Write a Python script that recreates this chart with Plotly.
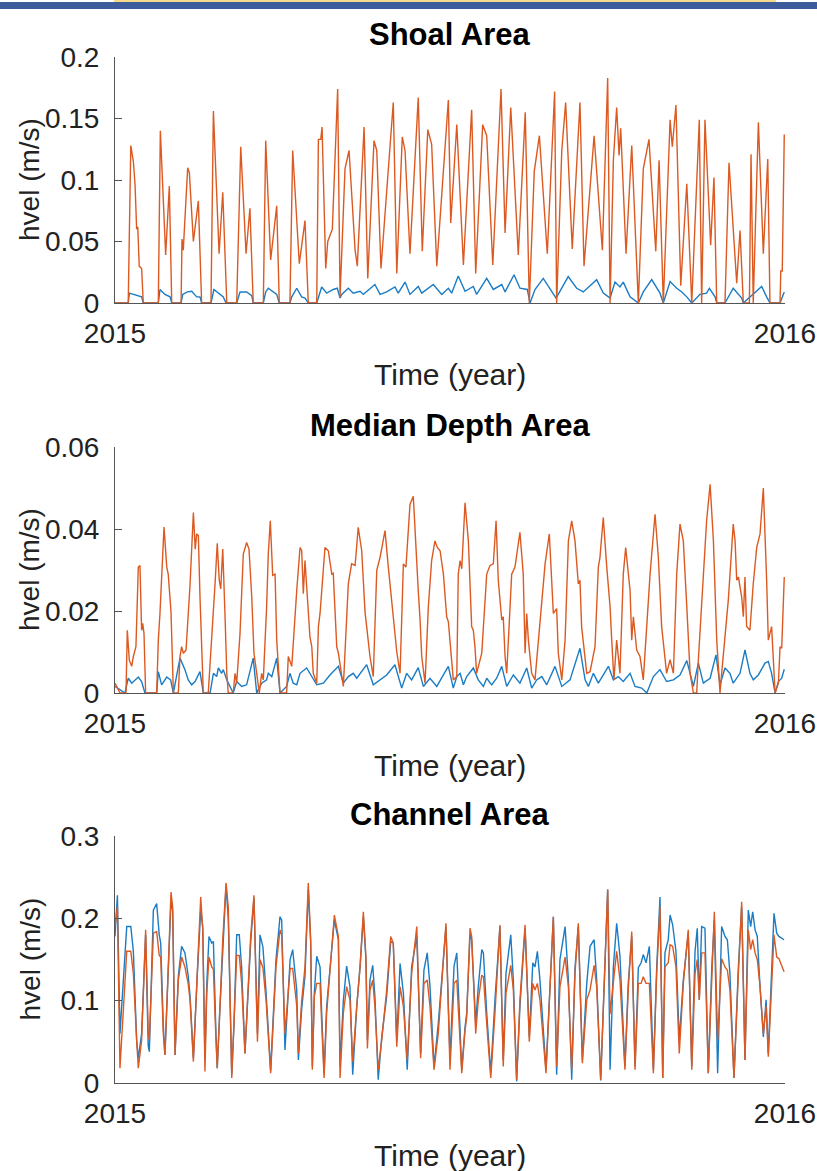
import plotly.graph_objects as go

# ---------------- DATA (time in days since 1 Jan 2015) ----------------
shoal_orange_day = [0, 7.2, 8.6, 10.0, 10.9, 11.8, 12.4, 13.2, 14.5, 15.4, 23.6, 24.7, 27.6, 29.6, 30.9,
    36.0, 36.5, 37.2, 39.6, 40.5, 42.7, 45.4, 47.2, 52.3, 53.6, 56.7, 58.7, 60.9, 66.3, 68.5, 71.4,
    73.5, 75.3, 80.8, 82.1, 84.8, 88.1, 89.5, 95.3, 96.8, 100.4, 101.7, 103.5, 105.3, 109.9, 110.8,
    112.1, 112.8, 114.8, 115.9, 118.4, 121.3, 122.6, 125.3, 127.5, 130.8, 132.0, 135.7, 137.7, 141.1,
    142.6, 144.9, 151.6, 153.5, 156.5, 158.0, 160.7, 165.2, 167.4, 170.4, 172.5, 175.3, 181.6, 182.9,
    186.2, 189.8, 194.3, 196.5, 200.3, 202.5, 205.8, 210.3, 212.5, 215.6, 219.7, 223.5, 225.7, 228.4,
    231.2, 235.5, 239.5, 240.6, 243.4, 245.5, 249.1, 253.3, 255.5, 261.0, 265.5, 268.4, 269.7, 271.5,
    273.3, 274.6, 275.5, 278.4, 281.5, 285.1, 287.8, 290.9, 294.6, 296.4, 298.7, 302.4, 303.6, 305.6,
    308.2, 311.5, 314.2, 318.3, 319.6, 321.4, 324.5, 326.3, 327.8, 332.3, 334.5, 338.7, 340.5, 342.3,
    345.6, 346.5, 347.7, 350.5, 353.2, 355.6, 356.8, 362.3, 362.7, 363.5, 364.6]
shoal_orange_val = [0, 0, 0.128, 0.115, 0.097, 0.06, 0.062, 0.03, 0.028, 0, 0, 0.14, 0.039, 0.095, 0,
    0, 0.052, 0.043, 0.11, 0.106, 0.05, 0.083, 0, 0, 0.156, 0.04, 0.09, 0, 0, 0.127, 0.04,
    0.077, 0, 0, 0.132, 0.035, 0.079, 0, 0, 0.124, 0.032, 0.048, 0.067, 0, 0, 0.133,
    0.133, 0.143, 0.028, 0.05, 0.06, 0.174, 0.005, 0.109, 0.124, 0.043, 0.03, 0.143, 0.02, 0.132,
    0.124, 0.028, 0.163, 0.024, 0.135, 0.124, 0.04, 0.167, 0.042, 0.141, 0.129, 0.030, 0.165, 0.065,
    0.145, 0.031, 0.157, 0.024, 0.145, 0.136, 0.031, 0.174, 0.057, 0.159, 0.039, 0.155, 0, 0.107,
    0.136, 0.04, 0.172, 0, 0.124, 0.163, 0.044, 0.163, 0.03, 0.136, 0.043, 0.183, 0, 0.116,
    0.159, 0.12, 0.142, 0.04, 0.128, 0, 0.109, 0.133, 0.042, 0.116, 0, 0.149, 0.127, 0.161,
    0.014, 0.097, 0, 0.149, 0, 0.149, 0.047, 0.102, 0, 0, 0.114, 0.016, 0.059, 0,
    0, 0.121, 0, 0.147, 0.04, 0.117, 0, 0, 0.026, 0.026, 0.137]

shoal_blue_day = [0, 7.2, 7.8, 10.0, 12.7, 14.5, 15.4, 23.6, 24.5, 27.2, 30.0, 30.9, 36.0, 36.9, 39.4,
    41.8, 44.5, 46.3, 47.2, 52.3, 53.9, 56.3, 59.0, 60.5, 66.3, 68.1, 71.7, 74.5, 75.3, 80.8, 82.1,
    83.5, 86.2, 88.1, 89.5, 95.3, 96.3, 99.0, 101.7, 103.5, 105.3, 109.9, 112.6, 115.3, 118.9, 121.1,
    122.6, 123.5, 127.1, 129.8, 133.5, 135.3, 141.6, 144.4, 148.0, 152.5, 154.3, 158.0, 160.7, 165.2,
    167.1, 173.4, 178.0, 181.6, 183.4, 187.0, 190.7, 195.2, 197.0, 202.5, 206.1, 210.7, 212.5, 217.4,
    220.6, 224.6, 226.1, 228.8, 233.3, 237.0, 240.3, 246.9, 251.5, 255.1, 262.4, 266.0, 269.7, 272.4,
    275.1, 276.9, 280.6, 285.1, 287.8, 292.4, 296.9, 298.7, 302.4, 306.0, 308.8, 311.5, 314.2, 318.7,
    322.3, 323.8, 326.9, 327.8, 332.3, 336.8, 341.4, 342.3, 346.0, 352.3, 355.0, 356.8, 362.3, 364.6]
shoal_blue_val = [0, 0, 0.008, 0.007, 0.006, 0.005, 0, 0, 0.011, 0.007, 0.005, 0, 0, 0.007, 0.009,
    0.0095, 0.005, 0.005, 0, 0, 0.011, 0.008, 0.005, 0, 0, 0.009, 0.009, 0.006, 0, 0, 0.009,
    0.012, 0.009, 0.007, 0, 0, 0.005, 0.012, 0.005, 0.004, 0, 0, 0.013, 0.008, 0.011, 0.012,
    0.004, 0.007, 0.012, 0.008, 0.0095, 0.007, 0.015, 0.007, 0.009, 0.013, 0.008, 0.017, 0.007, 0.0135,
    0.008, 0.015, 0.007, 0.012, 0.008, 0.022, 0.0095, 0.0135, 0.007, 0.020, 0.011, 0.015, 0.009, 0.023,
    0.012, 0.011, 0, 0.011, 0.020, 0.012, 0.004, 0.0215, 0.012, 0.009, 0.019, 0.008, 0.004, 0.017,
    0.013, 0.017, 0.005, 0, 0.009, 0.019, 0.008, 0, 0.0175, 0.012, 0.009, 0.005, 0, 0.007,
    0.008, 0.012, 0.005, 0, 0, 0.012, 0.004, 0, 0.005, 0.0135, 0.005, 0, 0, 0.009]

median_orange_day = [0, 0.9, 2.7, 6.0, 6.7, 7.8, 9.1, 10.0, 11.4, 12.7, 13.6, 14.5, 15.1, 15.8, 16.7,
    22.7, 23.6, 24.5, 26.7, 28.2, 29.0, 30.5, 31.8, 34.5, 35.4, 36.3, 37.2, 38.7, 39.9, 40.9, 42.7,
    43.7, 44.5, 45.4, 46.3, 47.2, 48.1, 50.8, 52.7, 54.5, 55.7, 56.8, 57.6, 58.7, 59.9, 60.9, 61.7,
    64.4, 65.4, 66.3, 68.1, 69.9, 71.7, 73.0, 74.5, 75.7, 77.2, 78.6, 79.9, 80.8, 82.6, 83.5, 84.6,
    85.9, 87.2, 88.1, 89.9, 93.5, 94.4, 96.3, 99.0, 100.8, 101.7, 102.6, 103.5, 104.4, 106.2, 107.2,
    108.0, 109.9, 110.8, 111.7, 114.4, 116.2, 118.1, 118.9, 120.8, 121.7, 123.5, 124.4, 127.1, 128.9,
    130.8, 132.5, 134.4, 136.2, 137.1, 138.9, 140.7, 142.6, 144.4, 147.1, 148.9, 151.6, 153.5, 155.3,
    157.1, 158.5, 160.7, 162.5, 163.4, 165.2, 166.2, 167.1, 168.9, 170.7, 172.5, 174.3, 175.6, 177.1,
    178.9, 180.7, 181.6, 182.5, 183.4, 184.3, 186.2, 187.0, 188.0, 188.9, 190.7, 192.5, 194.3, 195.2,
    196.1, 197.0, 199.8, 202.5, 204.3, 206.1, 207.6, 208.8, 210.7, 211.5, 212.5, 213.4, 216.1, 217.9,
    220.6, 222.4, 223.4, 224.3, 225.2, 227.0, 228.8, 231.5, 234.3, 236.6, 238.8, 240.6, 241.5, 243.4,
    245.2, 247.0, 248.8, 250.6, 252.4, 253.3, 254.2, 257.0, 258.8, 261.5, 263.3, 264.2, 266.0, 267.9,
    269.7, 270.6, 271.8, 273.3, 275.1, 276.9, 278.2, 280.6, 281.5, 282.4, 284.2, 286.0, 287.8, 291.5,
    294.2, 296.0, 297.8, 300.5, 302.4, 304.2, 306.0, 307.8, 309.6, 311.5, 313.3, 315.1, 316.9, 317.8,
    320.5, 322.3, 324.2, 326.0, 327.8, 329.6, 330.5, 332.3, 334.1, 335.0, 336.8, 337.8, 338.7, 339.6,
    341.4, 342.3, 343.2, 344.1, 345.9, 347.7, 349.6, 351.4, 353.2, 355.0, 355.9, 357.7, 358.6, 359.6,
    361.4, 362.3, 363.2, 364.6]
median_orange_val = [0.0024, 0.0016, 0, 0, 0.0153, 0.008, 0.0065, 0.0089, 0.0113, 0.0307, 0.0311, 0.0153, 0.017, 0.0145, 0,
    0, 0.0129, 0.0194, 0.0405, 0.0307, 0.029, 0.0198, 0, 0, 0.0089, 0.0113, 0.0097, 0.0105, 0.0186, 0.0266, 0.044,
    0.0351, 0.0388, 0.0384, 0.0234, 0.0105, 0, 0, 0.0129, 0.0266, 0.0365, 0.0275, 0.0254, 0.0351, 0.0194, 0.0048, 0,
    0, 0.0048, 0.0024, 0.0145, 0.0339, 0.0367, 0.0351, 0.0234, 0.0097, 0.0048, 0, 0.0048, 0.0032, 0.021, 0.0339, 0.042,
    0.0287, 0.029, 0.0129, 0, 0, 0.0089, 0.0065, 0.025, 0.0355, 0.0347, 0.0242, 0.0323, 0.025, 0.0137, 0.0113,
    0.0048, 0.0024, 0.0162, 0.0194, 0.0355, 0.0347, 0.029, 0.0292, 0.0113, 0.0097, 0.0048, 0.0016, 0.0266, 0.0315,
    0.0311, 0.0404, 0.0347, 0.0198, 0.0162, 0.0089, 0.004, 0.0299, 0.0331, 0.0396, 0.0307, 0.0178, 0.010, 0.0048,
    0.0315, 0.0307, 0.046, 0.048, 0.0396, 0.025, 0.0178, 0.0089, 0.0024, 0.021, 0.0323, 0.0371, 0.0355, 0.0347,
    0.029, 0.0186, 0.0174, 0.0129, 0.0065, 0.0032, 0.004, 0.029, 0.0323, 0.0303, 0.0464, 0.0371, 0.0162, 0.0153,
    0.0113, 0.0048, 0.0097, 0.029, 0.0311, 0.0315, 0.042, 0.0275, 0.0178, 0.0186, 0.0089, 0.0048, 0.029, 0.0307,
    0.0392, 0.029, 0.0097, 0.0194, 0.0129, 0.0048, 0.0032, 0.0162, 0.0315, 0.0388, 0.0194, 0.0206, 0.0097, 0.0032,
    0.0129, 0.0371, 0.042, 0.0371, 0.0266, 0.0275, 0.0162, 0.0048, 0.0052, 0.0113, 0.0307, 0.0331, 0.0428, 0.0307,
    0.021, 0.0129, 0.0032, 0.0129, 0.0048, 0.029, 0.0355, 0.025, 0.0129, 0.0186, 0.0105, 0.0089, 0.0032, 0.029,
    0.0436, 0.0331, 0.0162, 0.0048, 0.0081, 0.0048, 0.029, 0.0412, 0.0371, 0.021, 0.0048, 0, 0, 0.0081,
    0.029, 0.042, 0.0509, 0.0371, 0.0129, 0, 0.0048, 0.0129, 0.0226, 0.0287, 0.0412, 0.0371, 0.0275, 0.0283,
    0.0234, 0.0186, 0.0283, 0.0162, 0.0153, 0.0266, 0.0355, 0.0388, 0.050, 0.0275, 0.0129, 0.0162, 0.0089, 0,
    0.0024, 0.0113, 0.0109, 0.0283]

median_blue_day = [0, 2.7, 5.4, 7.2, 9.1, 12.7, 14.5, 16.3, 22.7, 23.6, 25.4, 28.2, 30.3, 31.8, 35.4,
    38.1, 39.9, 41.8, 43.6, 46.3, 48.1, 51.8, 53.6, 55.4, 56.3, 58.1, 59.0, 60.9, 64.4, 66.3, 69.0,
    71.7, 75.3, 77.2, 79.9, 82.6, 83.5, 85.4, 88.1, 89.9, 93.5, 95.3, 97.1, 99.0, 100.8, 104.4, 108.0,
    109.9, 113.5, 117.1, 121.7, 124.4, 127.1, 129.8, 131.7, 137.1, 140.7, 144.4, 148.0, 152.5, 156.2,
    158.9, 161.6, 165.2, 168.0, 171.6, 175.3, 178.9, 181.6, 184.3, 186.2, 188.0, 189.8, 191.6, 195.2,
    197.9, 200.7, 202.5, 205.2, 207.9, 210.7, 213.4, 217.0, 220.6, 224.3, 227.0, 229.7, 232.5, 235.2,
    239.7, 243.4, 247.9, 253.3, 256.1, 257.9, 260.6, 263.3, 266.0, 268.8, 271.5, 274.2, 276.9, 280.6,
    283.3, 286.9, 289.7, 293.3, 296.9, 300.5, 304.2, 307.8, 311.5, 315.1, 317.8, 320.5, 324.2, 327.4,
    329.6, 332.3, 335.0, 336.8, 340.5, 343.2, 345.9, 347.7, 350.5, 354.1, 355.9, 357.7, 359.6, 361.4,
    363.2, 364.6]
median_blue_val = [0.0016, 0.0008, 0, 0.0036, 0.0024, 0.0039, 0.0028, 0, 0, 0.0052, 0.002, 0.0039, 0.0032, 0, 0.0085,
    0.0057, 0.0032, 0.002, 0.0028, 0.0052, 0, 0, 0.0048, 0.004, 0.0061, 0.0048, 0.0057, 0.0032, 0, 0.0028, 0.0016,
    0.002, 0.0085, 0, 0.0024, 0.0032, 0.0048, 0.004, 0.0085, 0, 0.0016, 0.0048, 0.0024, 0.002, 0.0048, 0.0061, 0.0032,
    0.002, 0.0024, 0.0044, 0.0065, 0.0024, 0.004, 0.0048, 0.0036, 0.0069, 0.002, 0.0032, 0.0044, 0.0069, 0.0012,
    0.0048, 0.0032, 0.0062, 0.0016, 0.0036, 0.0016, 0.0044, 0.0065, 0.0012, 0.004, 0.0048, 0.002, 0.004, 0.0061,
    0.0032, 0.0016, 0.0036, 0.002, 0.0036, 0.0065, 0.0016, 0.0044, 0.0024, 0.0061, 0.0012, 0.0032, 0.004, 0.002,
    0.0065, 0.0016, 0.0032, 0.0109, 0.0032, 0.0016, 0.0048, 0.0024, 0.0044, 0.0065, 0.0032, 0.004, 0.0028, 0.0048,
    0.0016, 0.0012, 0, 0.004, 0.0057, 0.0028, 0.0032, 0.0044, 0.0079, 0.0016, 0.0073, 0.0024, 0.0036, 0.0093,
    0.002, 0.0061, 0.0048, 0.0024, 0.0048, 0.0105, 0.0048, 0.0032, 0.0044, 0.0073, 0.0077, 0.0048, 0, 0.0028,
    0.0036, 0.0058]

channel_day = [0, 1.3, 2.7, 6.4, 8.6, 10.0, 11.8, 12.7, 14.5, 16.7, 18.1, 18.7, 20.9, 22.7, 24.1, 24.9,
    26.3, 27.2, 29.6, 30.5, 31.4, 32.7, 34.5, 36.3, 38.1, 39.9, 40.9, 42.7, 44.8, 46.7, 47.8, 49.0,
    50.0, 51.2, 52.7, 53.6, 55.0, 55.7, 57.2, 58.7, 60.5, 61.7, 63.6, 64.8, 66.3, 67.7, 69.0, 70.8,
    72.6, 73.9, 75.7, 77.6, 79.0, 80.6, 82.3, 84.8, 87.7, 89.9, 90.8, 92.6, 95.4, 96.8, 99.0, 99.9,
    101.7, 103.5, 105.3, 106.6, 107.5, 108.6, 109.9, 111.7, 112.6, 113.9, 115.3, 117.1, 119.5, 121.7,
    122.6, 124.4, 126.2, 128.0, 129.5, 131.7, 133.5, 135.3, 136.7, 137.5, 138.9, 140.4, 141.6, 143.4,
    145.3, 148.0, 150.2, 151.6, 153.5, 155.3, 157.1, 159.2, 161.6, 164.4, 166.5, 168.3, 170.1, 171.6,
    173.8, 176.1, 178.3, 180.3, 182.5, 184.7, 186.2, 187.0, 188.9, 190.7, 191.6, 193.4, 194.3, 196.5,
    197.9, 199.8, 200.7, 202.5, 204.7, 207.0, 209.7, 211.5, 213.0, 215.6, 217.0, 218.8, 220.6, 223.4,
    225.2, 225.7, 227.6, 228.8, 230.1, 231.5, 234.8, 237.0, 238.8, 240.6, 242.4, 245.2, 247.0, 248.8,
    250.6, 252.4, 254.6, 257.0, 258.8, 261.0, 262.4, 264.6, 266.9, 268.4, 269.7, 271.5, 273.3, 275.1,
    277.8, 279.6, 281.5, 283.3, 285.1, 286.6, 287.8, 289.3, 291.1, 293.3, 295.1, 296.9, 298.4, 299.6,
    301.4, 302.4, 303.8, 305.6, 307.4, 309.6, 312.3, 314.2, 316.0, 317.2, 318.3, 319.6, 321.4, 323.2,
    325.1, 326.5, 328.3, 330.5, 332.3, 333.6, 335.0, 337.2, 339.6, 341.4, 343.2, 345.0, 346.3, 347.4,
    348.7, 349.9, 351.4, 353.2, 354.7, 355.9, 359.0, 360.5, 361.7, 364.5]
channel_orange = [0.19, 0.214, 0.018, 0.16, 0.16, 0.133, 0.052, 0.018, 0.052, 0.186, 0.06, 0.052, 0.182, 0.184, 0.155, 0.153,
    0.06, 0.034, 0.174, 0.232, 0.214, 0.034, 0.125, 0.153, 0.141, 0.12, 0.10, 0.026, 0.133, 0.226, 0.186, 0.014,
    0.109, 0.153, 0.141, 0.138, 0.052, 0.018, 0.093, 0.174, 0.243, 0.214, 0.006, 0.064, 0.155, 0.155, 0.121, 0.036,
    0.113, 0.178, 0.228, 0.05, 0.15, 0.14, 0.1, 0.012, 0.141, 0.186, 0.18, 0.06, 0.139, 0.139, 0.094, 0.036,
    0.1, 0.141, 0.243, 0.174, 0.016, 0.105, 0.121, 0.121, 0.072, 0.006, 0.085, 0.133, 0.204, 0.178,
    0.006, 0.085, 0.117, 0.101, 0.026, 0.093, 0.141, 0.208, 0.153, 0.042, 0.113, 0.125, 0.093, 0.016,
    0.052, 0.113, 0.178, 0.17, 0.044, 0.117, 0.093, 0.028, 0.133, 0.19, 0.03, 0.121, 0.125, 0.093,
    0.016, 0.06, 0.133, 0.194, 0.016, 0.121, 0.125, 0.093, 0.012, 0.064, 0.08, 0.188, 0.178, 0.06,
    0.1, 0.131, 0.129, 0.072, 0.006, 0.085, 0.192, 0.02, 0.109, 0.143, 0.113, 0.004, 0.101, 0.192,
    0.068, 0.05, 0.121, 0.113, 0.121, 0.101, 0.012, 0.113, 0.202, 0.02, 0.117, 0.153, 0.117, 0.016,
    0.133, 0.194, 0.024, 0.101, 0.113, 0.143, 0.117, 0.004, 0.133, 0.235, 0.084, 0.125, 0.16, 0.125,
    0.016, 0.113, 0.184, 0.016, 0.121, 0.121, 0.129, 0.121, 0.121, 0.012, 0.133, 0.214, 0.006, 0.141,
    0.146, 0.168, 0.166, 0.141, 0.036, 0.121, 0.186, 0.016, 0.133, 0.15, 0.101, 0.158, 0.158, 0.012,
    0.133, 0.208, 0.052, 0.151, 0.141, 0.137, 0.113, 0.006, 0.133, 0.22, 0.028, 0.186, 0.162, 0.174,
    0.158, 0.15, 0.117, 0.06, 0.093, 0.032, 0.18, 0.153, 0.151, 0.135]
channel_blue = [0.178, 0.228, 0.06, 0.19, 0.19, 0.16, 0.052, 0.03, 0.06, 0.18, 0.045, 0.038, 0.21, 0.218, 0.18, 0.17,
    0.07, 0.034, 0.17, 0.22, 0.21, 0.034, 0.13, 0.166, 0.158, 0.13, 0.105, 0.03, 0.13, 0.21, 0.19, 0.03,
    0.12, 0.178, 0.17, 0.172, 0.06, 0.018, 0.093, 0.16, 0.24, 0.2, 0.01, 0.07, 0.18, 0.18, 0.14, 0.036,
    0.113, 0.17, 0.225, 0.06, 0.18, 0.165, 0.11, 0.015, 0.15, 0.202, 0.198, 0.04, 0.15, 0.162, 0.113, 0.028,
    0.09, 0.13, 0.235, 0.17, 0.02, 0.11, 0.154, 0.141, 0.085, 0.012, 0.093, 0.14, 0.198, 0.174,
    0.02, 0.1, 0.142, 0.117, 0.01, 0.093, 0.141, 0.202, 0.15, 0.052, 0.125, 0.143, 0.105, 0.004,
    0.056, 0.105, 0.172, 0.17, 0.052, 0.145, 0.109, 0.016, 0.141, 0.178, 0.036, 0.137, 0.158, 0.117,
    0.02, 0.072, 0.14, 0.19, 0.03, 0.142, 0.158, 0.113, 0.016, 0.068, 0.085, 0.18, 0.174, 0.072,
    0.117, 0.162, 0.158, 0.085, 0.012, 0.101, 0.19, 0.028, 0.133, 0.18, 0.125, 0.002, 0.093, 0.188,
    0.076, 0.056, 0.146, 0.141, 0.16, 0.125, 0.016, 0.117, 0.202, 0.01, 0.15, 0.19, 0.125, 0.004,
    0.14, 0.19, 0.028, 0.121, 0.166, 0.174, 0.125, 0.003, 0.141, 0.235, 0.016, 0.141, 0.194, 0.154,
    0.02, 0.121, 0.178, 0.02, 0.14, 0.146, 0.156, 0.146, 0.166, 0.016, 0.14, 0.226, 0.006, 0.158,
    0.174, 0.204, 0.192, 0.16, 0.052, 0.125, 0.182, 0.02, 0.16, 0.188, 0.101, 0.19, 0.188, 0.012,
    0.14, 0.198, 0.012, 0.19, 0.178, 0.174, 0.133, 0.006, 0.141, 0.214, 0.028, 0.21, 0.19, 0.208,
    0.186, 0.178, 0.117, 0.056, 0.101, 0.036, 0.206, 0.182, 0.178, 0.174]

titles = ["Shoal Area", "Median Depth Area", "Channel Area"]
y_ranges = [(0, 0.2), (0, 0.06), (0, 0.3)]
y_tickvals = [[0, 0.05, 0.1, 0.15, 0.2], [0, 0.02, 0.04, 0.06], [0, 0.1, 0.2, 0.3]]
y_ticktext = [["0", "0.05", "0.1", "0.15", "0.2"], ["0", "0.02", "0.04", "0.06"], ["0", "0.1", "0.2", "0.3"]]
x_tickvals = [0, 365]
x_ticktext = ["2015", "2016"]

# ---------------- STYLE / LAYOUT ----------------
W, H = 817, 1171
BLUE = "#1a7cc4"
ORANGE = "#dc5a22"
AXC = "#555555"
TXT = "#222222"
FONT = "Liberation Sans, Arial, Helvetica, sans-serif"

x_px = (115, 785)
panels_px = [(57, 303), (447, 693), (836, 1083)]  # (top, bottom) in pixels


def py(p):
    return 1 - p / H


def px(p):
    return p / W


series = [
    ((shoal_blue_day, shoal_blue_val), (shoal_orange_day, shoal_orange_val)),
    ((median_blue_day, median_blue_val), (median_orange_day, median_orange_val)),
    ((channel_day, channel_blue), (channel_day, channel_orange)),
]

fig = go.Figure()
layout = dict(
    template="none",
    width=W, height=H, margin=dict(l=0, r=0, t=0, b=0, pad=0, autoexpand=False),
    paper_bgcolor="white", plot_bgcolor="white", showlegend=False,
    font=dict(family=FONT, color=TXT),
)
annotations = []
for i, ((bd, bv), (od, ov)) in enumerate(series):
    n = "" if i == 0 else str(i + 1)
    fig.add_trace(go.Scatter(x=bd, y=bv, mode="lines", line=dict(color=BLUE, width=1.4),
                             xaxis="x" + n, yaxis="y" + n))
    fig.add_trace(go.Scatter(x=od, y=ov, mode="lines", line=dict(color=ORANGE, width=1.4),
                             xaxis="x" + n, yaxis="y" + n))
    top, bot = panels_px[i]
    layout["xaxis" + n] = dict(
        domain=[px(x_px[0]), px(x_px[1])], range=[0, 365], anchor="y" + n,
        automargin=False,
        showline=True, linecolor=AXC, linewidth=1, ticks="inside", ticklen=7,
        tickcolor=AXC, tickwidth=1, showgrid=False, zeroline=False,
        tickvals=x_tickvals, ticktext=x_ticktext, tickfont=dict(size=28, color=TXT),
        ticklabelstandoff=5,
    )
    layout["yaxis" + n] = dict(
        domain=[py(bot), py(top)], range=list(y_ranges[i]), anchor="x" + n,
        automargin=False,
        showline=True, linecolor=AXC, linewidth=1, ticks="inside", ticklen=7,
        tickcolor=AXC, tickwidth=1, showgrid=False, zeroline=False,
        tickvals=y_tickvals[i], ticktext=y_ticktext[i], tickfont=dict(size=28, color=TXT),
        ticklabelstandoff=9,
    )
    annotations.append(dict(text="<b>%s</b>" % titles[i], x=px(450), y=py(top - 22),
                            xref="paper", yref="paper", showarrow=False,
                            xanchor="center", yanchor="middle", font=dict(size=31, color="black")))
    annotations.append(dict(text="Time (year)", x=px(450), y=py(bot + 72),
                            xref="paper", yref="paper", showarrow=False,
                            xanchor="center", yanchor="middle", font=dict(size=30, color=TXT)))
    annotations.append(dict(text="hvel (m/s)", x=px(30), y=py((top + bot) / 2),
                            xref="paper", yref="paper", showarrow=False, textangle=-90,
                            xanchor="center", yanchor="middle", font=dict(size=28, color=TXT)))

layout["annotations"] = annotations
layout["shapes"] = [
    dict(type="rect", xref="paper", yref="paper", x0=0, x1=1, y0=py(9), y1=py(2),
         fillcolor="#3d5c9c", line=dict(width=0)),
    dict(type="rect", xref="paper", yref="paper", x0=px(114), x1=px(776), y0=py(2), y1=1,
         fillcolor="#f6d98a", line=dict(width=0)),
]
fig.update_layout(**layout)
fig.write_html("out.html")
